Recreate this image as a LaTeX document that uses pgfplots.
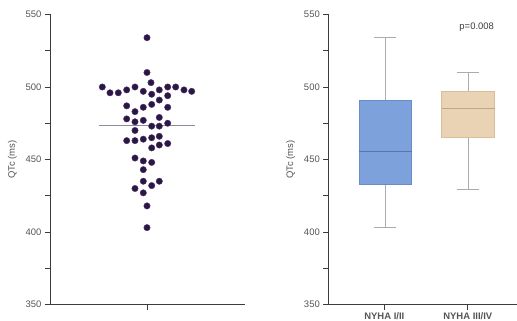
\documentclass[border=0pt]{standalone}
\usepackage{fontspec}
\setmainfont{Liberation Sans}
\usepackage{pgfplots}
\pgfplotsset{compat=1.18}

\definecolor{axisgray}{HTML}{3C3C3C}
\definecolor{labelgray}{HTML}{555555}
\definecolor{dotfill}{HTML}{2A1840}
\definecolor{dotedge}{HTML}{4E2F78}
\definecolor{meangray}{HTML}{8C8C9C}
\definecolor{boxblue}{HTML}{7DA1DA}
\definecolor{edgeblue}{HTML}{6A8CC6}
\definecolor{medblue}{HTML}{5576AE}
\definecolor{boxtan}{HTML}{EAD3B5}
\definecolor{edgetan}{HTML}{D9BE9C}
\definecolor{medtan}{HTML}{C4A585}
\definecolor{whisk}{HTML}{ABABAB}

\pgfplotsset{
  panel/.style={
    scale only axis,
    height=290bp,
    ymin=350, ymax=550,
    ytick={350,400,...,550},
    minor ytick={375,425,475,525},
    axis lines*=left,
    axis line style={axisgray, line width=0.9pt},
    tick align=outside,
    major tick length=5bp,
    minor tick length=5bp,
    tick style={axisgray, line width=0.8pt},
    tick label style={font=\fontsize{9.5}{10}\selectfont, text=labelgray},
    /pgf/number format/assume math mode=true,
    ylabel={QTc (ms)},
    ylabel style={font=\fontsize{9.5}{10}\selectfont, text=labelgray, xshift=0bp, yshift=2bp},
    clip=false,
  }
}

% Box-plot summaries: position, half width, whisker cap half width,
% lower whisker, Q1, median, Q3, upper whisker, box style
\def\boxplotfive#1#2#3#4#5#6#7#8#9{%
  \addplot[whisk, line width=0.8pt] coordinates {(#1,#4) (#1,#5)};
  \addplot[whisk, line width=0.8pt] coordinates {(#1,#7) (#1,#8)};
  \addplot[whisk, line width=0.8pt] coordinates {(#1-#3,#4) (#1+#3,#4)};
  \addplot[whisk, line width=0.8pt] coordinates {(#1-#3,#8) (#1+#3,#8)};
  \addplot[#9] coordinates {(#1-#2,#5) (#1+#2,#5) (#1+#2,#7) (#1-#2,#7)} -- cycle;
}

\begin{document}
\begin{tikzpicture}
\useasboundingbox (0,0) rectangle (517bp,321bp);

% Scatter of individual QTc values with the mean
\begin{axis}[panel,
  at={(50bp,16.5bp)}, anchor=south west,
  width=195bp,
  xmin=-97, xmax=98,
  xtick={0}, xticklabels={},
]
\addplot[only marks, mark=*, mark size=3.2bp,
  mark options={fill=dotfill, draw=dotedge, line width=0.4pt}]
  coordinates {
  (0,534) (0,510) (4,503)
  (-44.7,500) (-37,496) (-28.7,496) (-20.3,498) (-12,500) (-3.7,497)
  (4.7,495) (12.3,498) (20.7,500) (28.7,500) (37,498) (44.7,497)
  (20.7,494) (12.3,491) (4.7,488) (-3.7,486) (-12,483) (-20.3,487) (20.7,486)
  (-20.3,478) (-12,476) (-3.7,477) (12.3,479) (20.7,475)
  (4.7,473) (12.3,473) (-12,470)
  (-20.3,463) (-12,463) (-3.7,464) (4.7,465) (12.3,466)
  (4.7,458) (12.3,460) (20.7,461)
  (-12,451) (-3.7,449) (4.7,448) (-3.7,443)
  (-12,430) (-3.7,427) (-3.7,435) (4.7,432) (12.3,435)
  (0,418) (0,403)
  };
\addplot[meangray, line width=1.3pt] coordinates {(-48,473.5) (48,473.5)};
\end{axis}

% Box plots by NYHA class
\begin{axis}[panel,
  at={(328.3bp,16.5bp)}, anchor=south west,
  width=188.7bp,
  xmin=0, xmax=188.7,
  xtick={56,139.5},
  xticklabels={NYHA I/II, NYHA III/IV},
  xticklabel style={font=\fontsize{9.5}{10}\selectfont\bfseries, text=labelgray},
]
% NYHA I/II
\boxplotfive{57}{26.35}{11}{403}{432.7}{455.5}{491}{534}{fill=boxblue, draw=edgeblue, line width=0.8pt}
\addplot[medblue, line width=1pt] coordinates {(30.65,455.5) (83.35,455.5)};
% NYHA III/IV
\boxplotfive{140}{26.5}{11}{429.5}{465}{485.5}{497.3}{510}{fill=boxtan, draw=edgetan, line width=0.8pt}
\addplot[medtan, line width=1pt] coordinates {(113.5,485.5) (166.5,485.5)};
\node[font=\fontsize{9.5}{10}\selectfont, text=axisgray] at (axis cs:148.4,541.4) {p=0.008};
\end{axis}
\end{tikzpicture}
\end{document}
